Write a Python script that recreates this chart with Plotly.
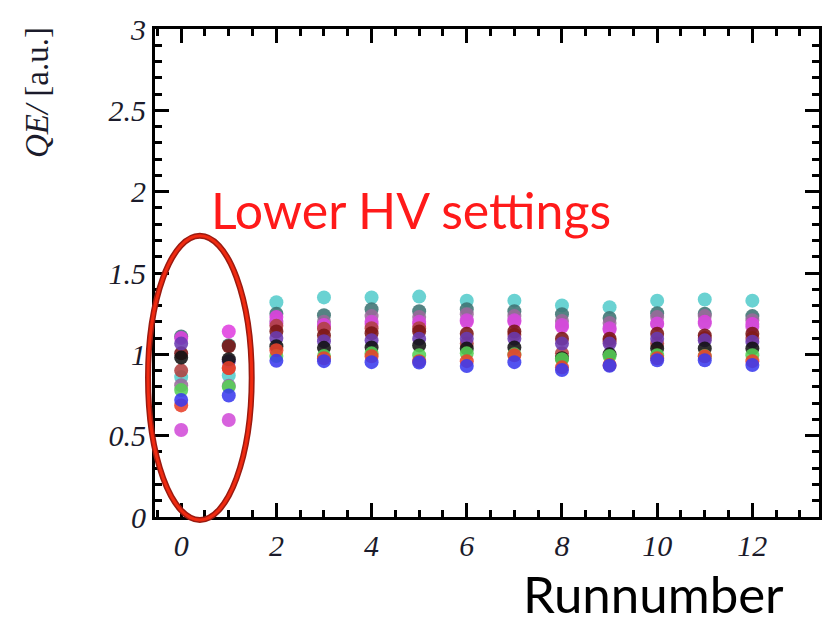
import plotly.graph_objects as go

runs = list(range(13))

series_names = ["cyan", "teal", "mauve", "magenta", "magenta2", "brick", "maroon",
                "purple", "black", "green", "red", "blue"]
series_colors = ["#55CCCC", "#3E7272", "#9A6A9A", "#E040E0", "#D24CD8", "#B04040", "#7A1414",
                 "#6A3AB0", "#111111", "#55D055", "#E8402A", "#3A3AEE"]

cyan     = [0.86, 0.87, 1.32, 1.35, 1.35, 1.355, 1.33, 1.33, 1.30, 1.29, 1.33, 1.337, 1.33]
teal     = [1.11, 1.056, 1.25, 1.24, 1.277, 1.265, 1.277, 1.265, 1.247, 1.223, 1.253, 1.25, 1.235]
mauve    = [0.81, 0.807, 1.205, 1.20, 1.235, 1.23, 1.247, 1.235, 1.205, 1.193, 1.229, 1.235, 1.21]
magenta  = [1.10, 1.14, 1.23, 1.18, 1.187, 1.187, 1.20, 1.20, 1.169, 1.151, 1.187, 1.20, 1.187]
magenta2 = [0.535, 0.596, 1.19, 1.17, 1.20, 1.20, 1.21, 1.21, 1.18, 1.16, 1.19, 1.19, 1.17]
brick    = [0.90, 0.916, 1.175, 1.157, 1.16, 1.16, 1.066, 1.12, 1.006, 1.08, 1.066, 1.10, 1.10]
maroon   = [1.006, 1.05, 1.14, 1.116, 1.13, 1.14, 1.127, 1.14, 1.096, 1.096, 1.127, 1.116, 1.127]
purple   = [1.066, 0.958, 1.10, 1.08, 1.086, 1.096, 1.096, 1.096, 1.066, 1.066, 1.096, 1.086, 1.078]
black    = [0.98, 0.97, 1.05, 1.04, 1.042, 1.055, 1.036, 1.042, 0.976, 1.00, 1.036, 1.036, 1.036]
green    = [0.78, 0.80, 0.99, 0.99, 1.006, 0.994, 1.006, 1.00, 0.97, 0.99, 0.994, 0.99, 0.994]
red      = [0.686, 0.916, 1.025, 0.976, 0.988, 0.958, 0.958, 0.994, 0.92, 0.934, 0.976, 0.988, 0.958]
blue     = [0.72, 0.747, 0.96, 0.958, 0.952, 0.95, 0.928, 0.952, 0.904, 0.93, 0.964, 0.964, 0.934]

series_values = [cyan, teal, mauve, magenta, magenta2, brick, maroon, purple, black, green, red, blue]

x_tickvals = [0, 2, 4, 6, 8, 10, 12]
y_tickvals = [0, 0.5, 1, 1.5, 2, 2.5, 3]
y_ticktext = ["0", "0.5", "1", "1.5", "2", "2.5", "3"]

fig = go.Figure()
for name, color, vals in zip(series_names, series_colors, series_values):
    fig.add_trace(go.Scatter(
        x=runs, y=vals, mode="markers", name=name,
        marker=dict(size=14, color=color, opacity=0.88, line=dict(width=0)),
        showlegend=False,
    ))

tickfont = dict(family="Liberation Serif", size=30, style="italic", color="#1b1b2b")

axis_common = dict(
    showline=True, linecolor="black", linewidth=3, mirror="allticks",
    ticks="inside", tickcolor="black", tickwidth=3, ticklen=14,
    showgrid=False, zeroline=False, tickfont=tickfont,
)

fig.update_xaxes(range=[-0.55, 13.4], tickvals=x_tickvals,
                 minor=dict(dtick=0.5, ticklen=7, tickwidth=3, tickcolor="black", ticks="inside"),
                 **axis_common)
fig.update_yaxes(range=[0, 3], tickvals=y_tickvals, ticktext=y_ticktext,
                 minor=dict(dtick=0.1, ticklen=7, tickwidth=3, tickcolor="black", ticks="inside"),
                 **axis_common)

# plot area: x 155..821 px, y 19..517 px
W, H = 834, 623
L, R, T, B = 155, 821, 19, 517

def px(xp):
    return (xp - L) / (R - L)

def py(yp):
    return (B - yp) / (B - T)

fig.add_shape(type="circle", xref="paper", yref="paper",
              x0=px(148), x1=px(252), y0=py(520), y1=py(230),
              line=dict(color="#9a1a10", width=6), layer="above")
fig.add_shape(type="circle", xref="paper", yref="paper",
              x0=px(148), x1=px(252), y0=py(520), y1=py(230),
              line=dict(color="#f02a10", width=3), layer="above")

fig.add_annotation(text="Lower HV settings", xref="paper", yref="paper",
                   x=px(412), y=py(204), xanchor="center", yanchor="middle",
                   showarrow=False,
                   font=dict(family="Lato", size=50, color="#ff1a1a"))
fig.add_annotation(text="Runnumber", xref="paper", yref="paper",
                   x=px(655), y=py(595), xanchor="center", yanchor="middle",
                   showarrow=False,
                   font=dict(family="Lato", size=51, color="black"))
fig.add_annotation(text="<i>QE/</i> [a.u.]", xref="paper", yref="paper",
                   x=px(36), y=py(84), xanchor="center", yanchor="middle",
                   showarrow=False, textangle=-90,
                   font=dict(family="Liberation Serif", size=33, color="#1b1b2b"))

fig.update_layout(
    width=W, height=H,
    margin=dict(l=L, r=W - R, t=T, b=H - B),
    paper_bgcolor="white", plot_bgcolor="white",
)

fig.write_html("out.html")
